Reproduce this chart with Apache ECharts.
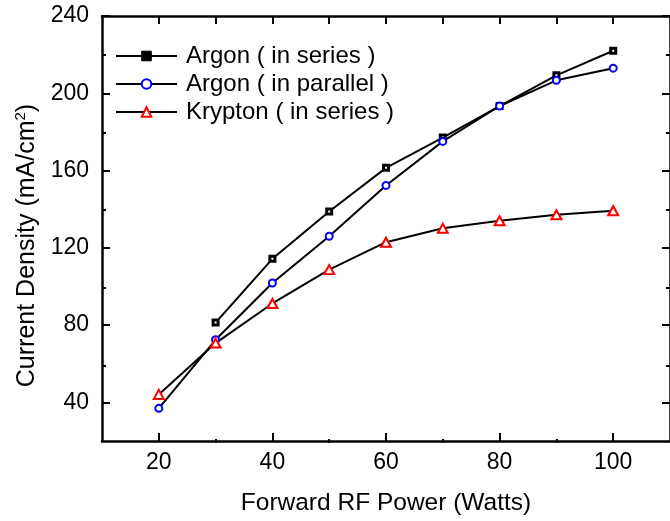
<!DOCTYPE html>
<html>
<head>
<meta charset="utf-8">
<script src="https://cdn.jsdelivr.net/npm/echarts@6/dist/echarts.min.js"></script>
<style>
html,body{margin:0;padding:0;background:#fff;}
#chart{width:670px;height:521px;}
</style>
</head>
<body>
<div id="chart"></div>
<script>
var powers = [20, 30, 40, 50, 60, 70, 80, 90, 100];
var argonSeries = [81.3, 114.3, 138.8, 161.4, 177.1, 193.4, 209.3, 222.0];
var argonSeriesX = [30, 40, 50, 60, 70, 80, 90, 100];
var argonParallel = [36.9, 72.4, 101.8, 126.0, 152.3, 175.1, 193.4, 206.7, 213.0];
var kryptonSeries = [44.1, 70.7, 91.2, 108.7, 122.9, 130.1, 134.0, 137.1, 139.2];
var xMajorTicks = [20, 40, 60, 80, 100];
var xMinorTicks = [30, 50, 70, 90];
var xTopTicks = [20, 30, 40, 50, 60, 70, 80, 90, 100];
var yMajorTicks = [40, 80, 120, 160, 200, 240];
var yMinorTicks = [60, 100, 140, 180, 220];
var names = ['Argon ( in series )', 'Argon ( in parallel )', 'Krypton ( in series )'];

function pairs(xs, ys) { return xs.map(function (x, i) { return [x, ys[i]]; }); }

var font = 'Liberation Sans, Arial, sans-serif';
var gridPos = { left: 102, right: -5, top: 16, bottom: 78, containLabel: false };

var chart = echarts.init(document.getElementById('chart'), null, { renderer: 'canvas' });
var blackLine = { color: '#000', width: 2 };

chart.setOption({
  animation: false,
  backgroundColor: '#fff',
  grid: [Object.assign({}, gridPos), Object.assign({}, gridPos)],
  legend: {
    left: 115, top: 44, orient: 'vertical', padding: 0,
    itemWidth: 61, itemHeight: 12, itemGap: 4,
    textStyle: { fontFamily: font, fontSize: 24, color: '#000', lineHeight: 24, padding: [0, 0, 0, 4] },
    data: [
      { name: names[0], itemStyle: { color: '#000', borderColor: '#000', borderWidth: 1 } },
      { name: names[1] },
      { name: names[2] }
    ]
  },
  xAxis: [
    { gridIndex: 0, type: 'value', position: 'bottom', min: 10, max: 110,
      axisLine: { show: true, lineStyle: { color: '#000', width: 2.5 } },
      axisTick: { show: true, inside: true, length: 8, lineStyle: { color: '#000', width: 2 }, customValues: xMajorTicks },
      axisLabel: { show: true, margin: 10, fontFamily: font, fontSize: 23, color: '#000', customValues: xMajorTicks },
      splitLine: { show: false },
      name: 'Forward RF Power (Watts)', nameLocation: 'middle', nameGap: 50,
      nameTextStyle: { fontFamily: font, fontSize: 24.5, color: '#000' } },
    { gridIndex: 0, type: 'value', position: 'top', min: 10, max: 110,
      axisLine: { show: true, lineStyle: { color: '#000', width: 2.5 } },
      axisTick: { show: true, inside: true, length: 8, lineStyle: { color: '#000', width: 2 }, customValues: xTopTicks },
      axisLabel: { show: false }, splitLine: { show: false } },
    { gridIndex: 1, type: 'value', position: 'bottom', min: 10, max: 110,
      axisLine: { show: false },
      axisTick: { show: true, inside: true, length: 4, lineStyle: { color: '#000', width: 2 }, customValues: xMinorTicks },
      axisLabel: { show: false }, splitLine: { show: false } }
  ],
  yAxis: [
    { gridIndex: 0, type: 'value', position: 'left', min: 20, max: 240,
      axisLine: { show: true, lineStyle: { color: '#000', width: 2.5 } },
      axisTick: { show: true, inside: true, length: 8, lineStyle: { color: '#000', width: 2 }, customValues: yMajorTicks },
      axisLabel: { show: true, margin: 13, fontFamily: font, fontSize: 23, color: '#000', customValues: yMajorTicks },
      splitLine: { show: false },
      name: '{a|Current Density (mA/cm}{s|2}{a|)}', nameLocation: 'middle', nameGap: 59,
      nameTextStyle: { fontFamily: font, fontSize: 25, color: '#000', padding: [0, 34, 0, 0],
        rich: { a: { fontFamily: font, fontSize: 25, color: '#000' },
                s: { fontFamily: font, fontSize: 15, color: '#000', verticalAlign: 'top', padding: [0, 0, 12, 0] } } } },
    { gridIndex: 0, type: 'value', position: 'right', min: 20, max: 240,
      axisLine: { show: true, lineStyle: { color: '#000', width: 2.5 } },
      axisTick: { show: true, inside: true, length: 8, lineStyle: { color: '#000', width: 2 }, customValues: yMajorTicks },
      axisLabel: { show: false }, splitLine: { show: false } },
    { gridIndex: 1, type: 'value', position: 'left', min: 20, max: 240,
      axisLine: { show: false },
      axisTick: { show: true, inside: true, length: 4, lineStyle: { color: '#000', width: 2 }, customValues: yMinorTicks },
      axisLabel: { show: false }, splitLine: { show: false } },
    { gridIndex: 1, type: 'value', position: 'right', min: 20, max: 240,
      axisLine: { show: false },
      axisTick: { show: true, inside: true, length: 4, lineStyle: { color: '#000', width: 2 }, customValues: yMinorTicks },
      axisLabel: { show: false }, splitLine: { show: false } }
  ],
  series: [
    { name: names[0], type: 'line', xAxisIndex: 0, yAxisIndex: 0,
      data: pairs(argonSeriesX, argonSeries),
      symbol: 'rect', symbolSize: 5, showAllSymbol: true,
      lineStyle: blackLine,
      itemStyle: { color: '#fff', borderColor: '#000', borderWidth: 3 } },
    { name: names[1], type: 'line', xAxisIndex: 0, yAxisIndex: 0,
      data: pairs(powers, argonParallel),
      symbol: 'circle', symbolSize: 7, showAllSymbol: true,
      lineStyle: blackLine,
      itemStyle: { color: '#fff', borderColor: '#0000ff', borderWidth: 2 } },
    { name: names[2], type: 'line', xAxisIndex: 0, yAxisIndex: 0,
      data: pairs(powers, kryptonSeries),
      symbol: 'triangle', symbolSize: [10, 9], showAllSymbol: true,
      lineStyle: blackLine,
      itemStyle: { color: '#fff', borderColor: '#ff0000', borderWidth: 2 } }
  ]
});
</script>
</body>
</html>
